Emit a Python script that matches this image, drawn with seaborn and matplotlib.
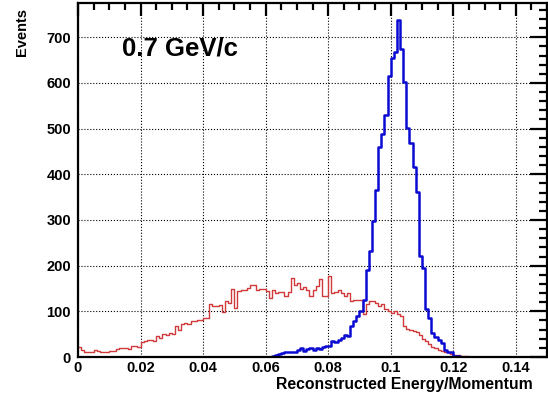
import numpy as np
import pandas as pd
import seaborn as sns
import matplotlib.pyplot as plt
from matplotlib.ticker import MultipleLocator, FuncFormatter

# histogram contents, 150 bins of width 0.001 from 0 to 0.15
n_bins = 150
x_range = (0, 0.15)

red_counts = [
    22, 15, 12, 12, 11, 16, 14, 12, 11, 12,
    14, 14, 18, 19, 20, 19, 18, 23, 25, 22,
    32, 34, 38, 37, 36, 45, 42, 51, 49, 53,
    50, 67, 60, 72, 75, 72, 78, 78, 82, 82,
    85, 85, 116, 111, 111, 114, 98, 122, 119, 149,
    107, 144, 146, 146, 151, 158, 158, 147, 148, 148,
    144, 129, 146, 140, 142, 142, 133, 142, 173, 158,
    162, 149, 153, 147, 134, 147, 156, 171, 134, 134,
    178, 140, 142, 147, 140, 133, 140, 122, 125, 124,
    125, 95, 115, 122, 122, 119, 112, 115, 104, 100,
    96, 100, 95, 90, 67, 62, 60, 58, 55, 49,
    40, 36, 28, 22, 20, 16, 14, 12, 10, 7,
    5, 4, 3, 2, 2, 1, 1, 0, 1, 0,
    1, 0, 0, 1, 0, 0, 1, 0, 0, 0,
    1, 0, 0, 0, 0, 1, 0, 0, 0, 0,
]

blue_counts = [0] * 60 + [
    0, 1, 2, 5, 6, 9, 10, 12, 11, 12,
    16, 20, 13, 18, 20, 16, 19, 18, 22, 25,
    24, 34, 32, 38, 42, 49, 47, 67, 78, 90,
    100, 125, 190, 231, 298, 366, 459, 489, 529, 616,
    654, 668, 738, 674, 601, 501, 468, 416, 362, 222,
    195, 104, 85, 53, 44, 37, 30, 16, 12, 10,
    3, 2, 1, 0, 0, 0, 0, 0, 0, 0,
] + [0] * 20

label_text = '0.7 GeV/c'
x_title = 'Reconstructed Energy/Momentum'
y_title = 'Events'

edges = np.linspace(x_range[0], x_range[1], n_bins + 1)
centers = (edges[:-1] + edges[1:]) / 2
df = pd.DataFrame({'x': centers, 'red': red_counts, 'blue': blue_counts})

sns.set_style('white')
plt.rcParams['font.family'] = ['Liberation Sans', 'DejaVu Sans']
plt.rcParams['font.weight'] = 'bold'
plt.rcParams['text.color'] = 'black'
plt.rcParams['xtick.labelcolor'] = 'black'
plt.rcParams['ytick.labelcolor'] = 'black'

fig = plt.figure(figsize=(5.48, 3.93), dpi=100)
ax = fig.add_axes([0.1423, 0.0916, 0.8560, 0.9008])

sns.histplot(data=df, x='x', weights='red', bins=n_bins, binrange=x_range,
             element='step', fill=False, color='#d03a3a', linewidth=1.0, ax=ax)
sns.histplot(data=df, x='x', weights='blue', bins=n_bins, binrange=x_range,
             element='step', fill=False, color='#0a0ad2', linewidth=1.8, ax=ax)

ax.set_xlim(0, 0.15)
ax.set_ylim(0, 775)

ax.xaxis.set_major_locator(MultipleLocator(0.02))
ax.xaxis.set_minor_locator(MultipleLocator(0.005))
ax.yaxis.set_major_locator(MultipleLocator(100))
ax.yaxis.set_minor_locator(MultipleLocator(20))
ax.xaxis.set_major_formatter(FuncFormatter(lambda v, p: '%g' % round(v, 3)))

ax.grid(True, which='major', color='black', linestyle=':', linewidth=0.8)
ax.tick_params(which='both', direction='in', top=True, right=True, color='black',
               labelcolor='black', width=1.6, labelsize=10.5)
ax.tick_params(axis='y', which='major', length=12, pad=5)
ax.tick_params(axis='y', which='minor', length=6)
ax.tick_params(axis='x', which='major', length=9, pad=3)
ax.tick_params(axis='x', which='minor', length=5)
for lab in ax.get_xticklabels() + ax.get_yticklabels():
    lab.set_fontweight('bold')

for s in ax.spines.values():
    s.set_color('black')
    s.set_linewidth(1.6)

ax.set_xlabel('')
ax.set_ylabel('')
fig.text(0.973, 0.003, x_title, ha='right', va='bottom', fontsize=11.3,
         fontweight='bold', color='black')
fig.text(0.041, 0.98, y_title, ha='center', va='top', rotation=90, fontsize=10.5,
         fontweight='bold', color='black')
ax.text(0.094, 0.871, label_text, transform=ax.transAxes, ha='left', va='center',
        fontsize=18.5, fontweight='bold', color='black')

fig.savefig('out.png', dpi=100)
